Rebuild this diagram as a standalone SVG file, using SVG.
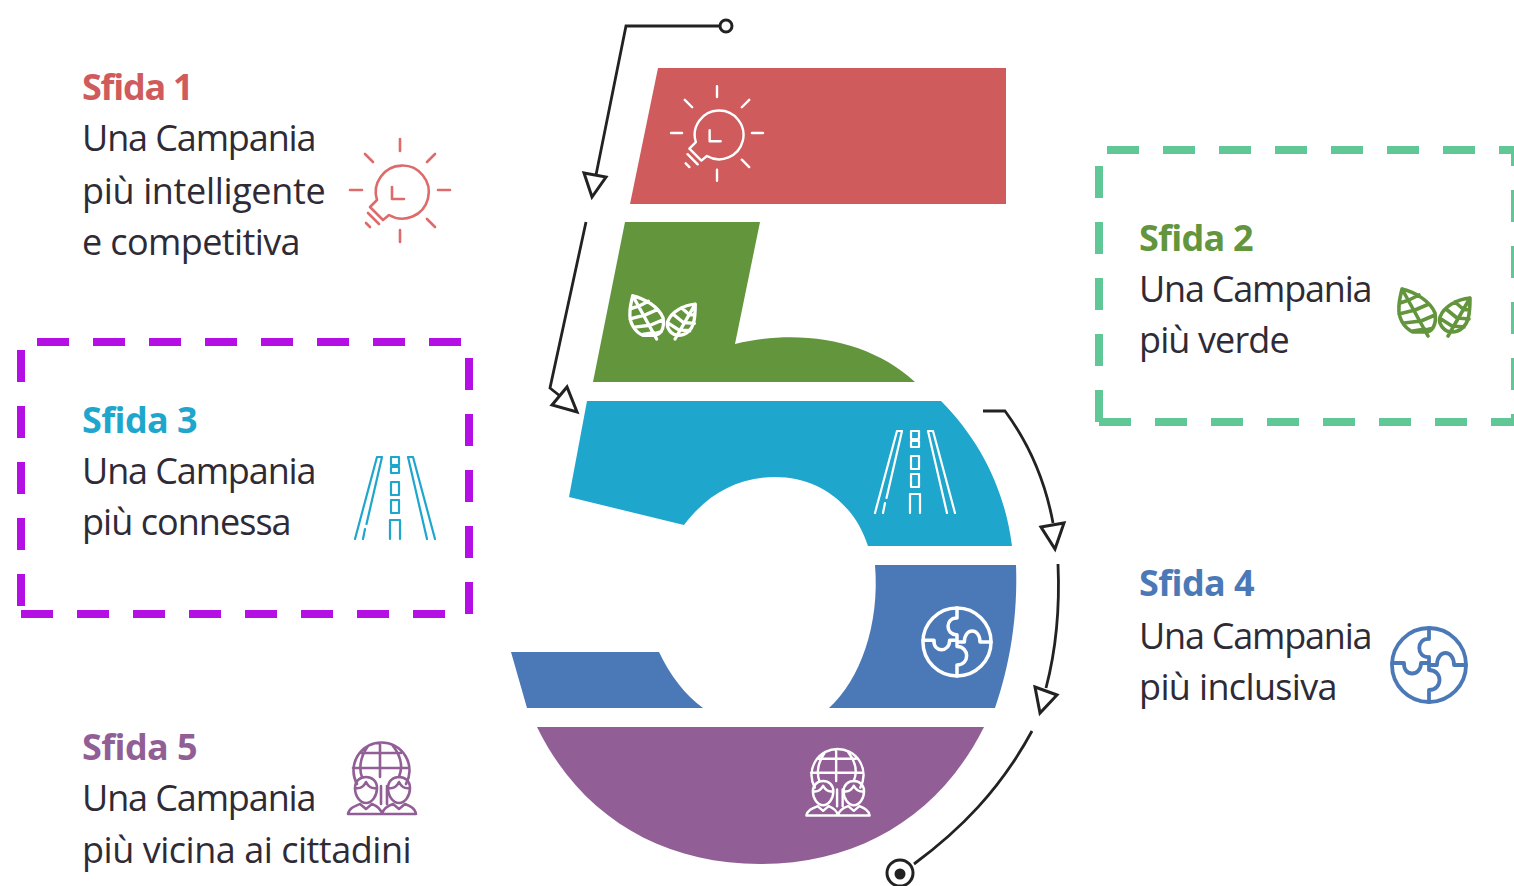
<svg xmlns="http://www.w3.org/2000/svg" width="1514" height="886" viewBox="0 0 1514 886">
<style>
text{font-family:"Open Sans","Noto Sans","Liberation Sans",sans-serif;font-size:36px;fill:#2f2b36;letter-spacing:-.6px}
.t{font-weight:700}
.ic{fill:none;stroke:currentColor;stroke-width:2.6;stroke-linecap:round;stroke-linejoin:round}
.cn{fill:none;stroke:#222;stroke-width:2.8}
.hd{fill:#fff;stroke:#222;stroke-width:3;stroke-linejoin:miter}
.gd{fill:none;stroke:#60C896;stroke-width:8;stroke-dasharray:32 24}
.pd{fill:none;stroke:#B40FE4;stroke-width:8;stroke-dasharray:32 24}
</style>
<defs>
<g id="bulb" class="ic">
<path d="M-11,25A26.500,26.500 0 1 0-23,10L-30,17L-17,30ZM-8,-3V9H4M-32,23L-21,34M-34,33L-30,37M0,-51V-39M0,40V52M-50,0H-38M38,0H50M-35,-36L-27,-28M35,-36L27,-28M27,29L35,37"/>
</g>
<g id="leaves" class="ic" style="stroke-width:3.600">
<path d="M-34,-35C-21,-32 -6,-23 -1,-11C1,1 -4,8 -11,8L-23,8C-32,4 -38,-6 -37,-17C-37,-24 -35,-30 -34,-35ZM-34,-35L-8,12M-27,-24L-17,-29M-21,-14L-7,-20M-15,-3L-1,-9M-10,6L-3,4M-27,-24L-36,-21M-21,-14L-37,-10M-15,-3L-32,-1M-11,5L-23,7"/>
<path d="M34,-26C22,-25 8,-18 4,-7C2,0 8,8 16,8C24,8 30,2 32,-5C34,-12 34,-20 34,-26ZM34,-26L12,12M27,-15L19,-22M21,-6L10,-15M16,2L5,-5M27,-15L33,-14M21,-6L33,-5M16,2L28,3"/>
</g>
<g id="road" class="ic" style="stroke-width:2.2">
<path d="M-18,-41L-40,41M-13,-41L-28.500,26M-30,31L-32,41M-13,-41H-18M18,-41L40,41M13,-41L32,41M13,-41H18M-4,-41H4V-33H-4ZM-4,-31H4V-25H-4ZM-4,-16H4V-3H-4ZM-4,2H4V15H-4ZM-5,41V22H5V41"/>
</g>
<g id="puzzle" class="ic" style="stroke-width:3.800">
<circle r="37"/>
<path d="M0,-37V-26C-13,-27 -13,-7 0,-8V0M-37,-2H-25C-26,12 -8,12 -8,-2H0M0,0H8C8,-16 25,-16 25,0H37M0,0V5C14,5 14,25 0,25V37"/>
</g>
<g id="globe" class="ic">
<path d="M-25,6A28,28 0 1 1 24,6M-2,-35V-1M-29,-10H27M-21,-25H19M-14,-32C-24,-18 -22,-6 -20,-1M11,-32C22,-18 19,-6 17,-1M-1,8V26M5,8V26"/>
<path d="M-27,10C-27,3 -22,-1 -16,-1C-10,-1 -5,3 -5,10C-5,18 -10,25 -16,25C-22,25 -27,18 -27,10ZM-27,10C-22,11 -18,8 -16,4C-14,8 -10,11 -5,10M6,10C6,3 11,-1 17,-1C23,-1 28,3 28,10C28,18 23,25 17,25C11,25 6,18 6,10ZM6,10C11,11 15,8 17,4C19,8 23,11 28,10M-34,36C-33,30 -27,28 -22,26L-16,31L-10,26C-5,28 -1,31 0,36C1,31 5,28 11,26L17,31L23,26C28,28 33,30 34,36Z"/>
</g>
</defs>

<g id="box-sfida-2">
<path class="gd" d="M1107,150H1515V422H1099"/>
<path class="gd" d="M1099,422V150"/>
</g>
<g id="box-sfida-3">
<path class="pd" d="M37,342H469V614H21"/>
<path class="pd" d="M21,606V342"/>
</g>

<g id="shape-red">
<path d="M658,68H1006V204H630Z" fill="#CF5B5C"/>
<use href="#bulb" transform="translate(717 133) scale(.92)" style="color:#fff"/>
</g>
<g id="shape-green">
<path d="M625,222H760L735,344C800,328 870,340 915,382H593Z" fill="#62953C"/>
<use href="#leaves" transform="translate(664 328) scale(.92)" style="color:#fff"/>
</g>
<g id="shape-blue">
<path d="M587,401H941C980,440 1005,490 1012,546H868C855,505 820,477 775,477C735,477 705,497 684,525L569,497Z" fill="#1FA6CC"/>
<use href="#road" x="915" y="472" style="color:#fff"/>
</g>
<g id="shape-steel">
<path d="M875,565H1016C1018,615 1010,665 995,708H829C860,680 880,625 875,565Z" fill="#4B79B7"/>
<path d="M511,652H659C670,675 685,695 703,708H527Z" fill="#4B79B7"/>
<use href="#puzzle" transform="translate(957 642) scale(.92)" style="color:#fff"/>
</g>
<g id="shape-purple">
<path d="M537,727H984C940,815 860,864 760,864C660,864 580,815 537,727Z" fill="#915E96"/>
<use href="#globe" transform="translate(838 782) scale(.93)" style="color:#fff"/>
</g>

<g id="connectors">
<path class="cn" d="M719,26H626L596,175"/>
<circle cx="726" cy="26" r="6" fill="#fff" stroke="#222" stroke-width="3"/>
<path class="hd" d="M584,173L606,177L592,197Z"/>
<path class="cn" d="M586,222L550,388L560,396"/>
<path class="hd" d="M552,405L567,387L577,412Z"/>
<path class="cn" d="M983,411H1005C1030,445 1046,485 1053,523"/>
<path class="hd" d="M1041,527L1064,523L1055,549Z"/>
<path class="cn" d="M1058,564C1060,610 1056,650 1046,688"/>
<path class="hd" d="M1035,687L1057,695L1040,713Z"/>
<path class="cn" d="M1032,731C1000,790 960,830 914,864"/>
<circle cx="900" cy="873" r="13" fill="#fff" stroke="#222" stroke-width="3"/>
<circle cx="900" cy="874" r="5.500" fill="#222"/>
</g>

<g id="sfida-1">
<text class="t" x="82" y="100" textLength="111" style="fill:#CF5B5C">Sfida 1</text>
<text x="82" y="151" textLength="234">Una Campania</text>
<text x="82" y="204" textLength="243">più intelligente</text>
<text x="82" y="255" textLength="218">e competitiva</text>
<use href="#bulb" transform="translate(400 190)" style="color:#DD6B6B"/>
</g>
<g id="sfida-2">
<text class="t" x="1139" y="251" textLength="114" style="fill:#62953C">Sfida 2</text>
<text x="1139" y="302" textLength="233">Una Campania</text>
<text x="1139" y="353" textLength="150">più verde</text>
<use href="#leaves" transform="translate(1436 324)" style="color:#62953C"/>
</g>
<g id="sfida-3">
<text class="t" x="82" y="433" textLength="115" style="fill:#1FA6CC">Sfida 3</text>
<text x="82" y="484" textLength="234">Una Campania</text>
<text x="82" y="535" textLength="209">più connessa</text>
<use href="#road" x="395" y="498" style="color:#1FA6CC"/>
</g>
<g id="sfida-4">
<text class="t" x="1139" y="596" textLength="115" style="fill:#4B79B7">Sfida 4</text>
<text x="1139" y="649" textLength="233">Una Campania</text>
<text x="1139" y="700" textLength="198">più inclusiva</text>
<use href="#puzzle" transform="translate(1429 665)" style="color:#4B79B7"/>
</g>
<g id="sfida-5">
<text class="t" x="82" y="760" textLength="115" style="fill:#915E96">Sfida 5</text>
<text x="82" y="811" textLength="234">Una Campania</text>
<text x="82" y="863" textLength="329">più vicina ai cittadini</text>
<use href="#globe" transform="translate(382 778)" style="color:#915E96"/>
</g>
</svg>
